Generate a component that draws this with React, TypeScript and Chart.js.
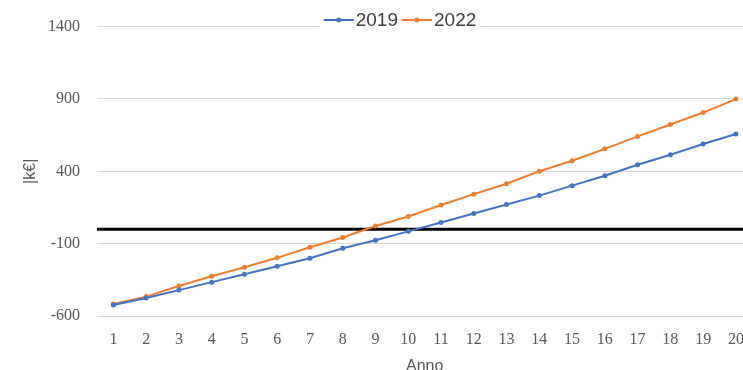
import React, { useEffect, useRef } from "react";
import { Chart, registerables } from "chart.js";

Chart.register(...registerables);

// Project years on the category axis
const years = [
  "1", "2", "3", "4", "5", "6", "7", "8", "9", "10",
  "11", "12", "13", "14", "15", "16", "17", "18", "19", "20",
];

// Cumulative cash flow [k€] per year
const cash2019 = [
  -524, -476, -421, -366, -311, -256, -201, -132, -77, -15,
  46, 108, 170, 232, 301, 369, 445, 514, 589, 658,
];
const cash2022 = [
  -517, -466, -393, -325, -263, -198, -125, -57, 22, 88,
  167, 242, 314, 400, 473, 555, 641, 723, 806, 899,
];

const seriesNames = ["2019", "2022"];
const yTickValues = [-600, -100, 400, 900, 1400];
const breakEvenLevel = 0;

const BLUE = "#4472C4";
const ORANGE = "#ED7D31";
const TEXT = "#595959";
const GRID = "#d9d9d9";

// Thick horizontal reference line at the break-even level
const breakEvenLine = {
  id: "breakEvenLine",
  beforeDatasetsDraw(chart: any) {
    const { ctx, chartArea, scales } = chart;
    const y = scales.y.getPixelForValue(breakEvenLevel);
    ctx.save();
    ctx.strokeStyle = "#000000";
    ctx.lineWidth = 3;
    ctx.beginPath();
    ctx.moveTo(chartArea.left, y);
    ctx.lineTo(chartArea.right, y);
    ctx.stroke();
    ctx.restore();
  },
};

// Legend drawn as line + marker + label, centred above the plot
const lineLegend = {
  id: "lineLegend",
  afterDraw(chart: any) {
    const { ctx } = chart;
    const centerX = 400;
    const y = 20;
    const sample = 30;
    const gap = 2;
    const spacing = 4;
    ctx.save();
    ctx.font = "19px 'Liberation Sans', Arial, sans-serif";
    const items = chart.data.datasets.map((ds: any) => ({
      label: ds.label,
      color: ds.borderColor,
      w: ctx.measureText(ds.label).width,
    }));
    const total = items.reduce((s: number, it: any) => s + sample + gap + it.w, 0) + spacing * (items.length - 1);
    let x = centerX - total / 2;
    ctx.fillStyle = "#ffffff";
    ctx.fillRect(x - 4, y - 12, total + 8, 24);
    items.forEach((it: any) => {
      ctx.strokeStyle = it.color;
      ctx.lineWidth = 2;
      ctx.beginPath();
      ctx.moveTo(x, y);
      ctx.lineTo(x + sample, y);
      ctx.stroke();
      ctx.fillStyle = it.color;
      ctx.beginPath();
      ctx.arc(x + sample / 2, y, 2.5, 0, Math.PI * 2);
      ctx.fill();
      ctx.fillStyle = "#404040";
      ctx.textBaseline = "middle";
      ctx.textAlign = "left";
      ctx.fillText(it.label, x + sample + gap, y + 1);
      x += sample + gap + it.w + spacing;
    });
    ctx.restore();
  },
};

export default function App() {
  const canvasRef = useRef<HTMLCanvasElement | null>(null);

  useEffect(() => {
    if (!canvasRef.current) return;
    const tickFont = { family: "'Liberation Serif', 'Times New Roman', serif", size: 16 };
    const titleFont = { family: "'Liberation Sans', Arial, sans-serif", size: 16 };
    const chart = new Chart(canvasRef.current, {
      type: "line",
      data: {
        labels: years,
        datasets: [
          {
            label: seriesNames[0],
            data: cash2019,
            borderColor: BLUE,
            backgroundColor: BLUE,
            borderWidth: 2,
            pointRadius: 2.5,
            pointBorderWidth: 0,
            pointBackgroundColor: BLUE,
            tension: 0,
          },
          {
            label: seriesNames[1],
            data: cash2022,
            borderColor: ORANGE,
            backgroundColor: ORANGE,
            borderWidth: 2,
            pointRadius: 2.5,
            pointBorderWidth: 0,
            pointBackgroundColor: ORANGE,
            tension: 0,
          },
        ],
      },
      options: {
        responsive: false,
        animation: false,
        layout: { padding: { top: 25, right: 1, left: 0, bottom: 0 } },
        plugins: {
          legend: { display: false },
          tooltip: { enabled: false },
        },
        scales: {
          x: {
            type: "category",
            offset: true,
            grid: { display: false, drawTicks: false },
            border: { display: false },
            ticks: { color: TEXT, font: tickFont, padding: 14, maxRotation: 0, autoSkip: false },
            title: { display: true, text: "Anno", color: TEXT, font: titleFont, padding: { top: 0, bottom: 4 } },
            afterFit(scale: any) {
              scale.height = 64;
            },
          },
          y: {
            type: "linear",
            min: -600,
            max: 1400,
            grid: { color: GRID, lineWidth: 1, drawTicks: false },
            border: { display: false },
            ticks: {
              color: TEXT,
              font: tickFont,
              padding: 17,
              callback: (value: any) => String(value),
            },
            afterBuildTicks(scale: any) {
              scale.ticks = yTickValues.map((v) => ({ value: v }));
            },
            title: { display: true, text: "|k€|", color: TEXT, font: titleFont, padding: { top: 21, bottom: 0 } },
            afterFit(scale: any) {
              scale.width = 97;
            },
          },
        },
      },
      plugins: [breakEvenLine, lineLegend],
    });
    return () => chart.destroy();
  }, []);

  return (
    <div
      style={{
        position: "fixed",
        left: 0,
        top: 0,
        width: 743,
        height: 370,
        overflow: "hidden",
        background: "#ffffff",
      }}
    >
      <canvas ref={canvasRef} width={758} height={380} style={{ display: "block" }} />
    </div>
  );
}
